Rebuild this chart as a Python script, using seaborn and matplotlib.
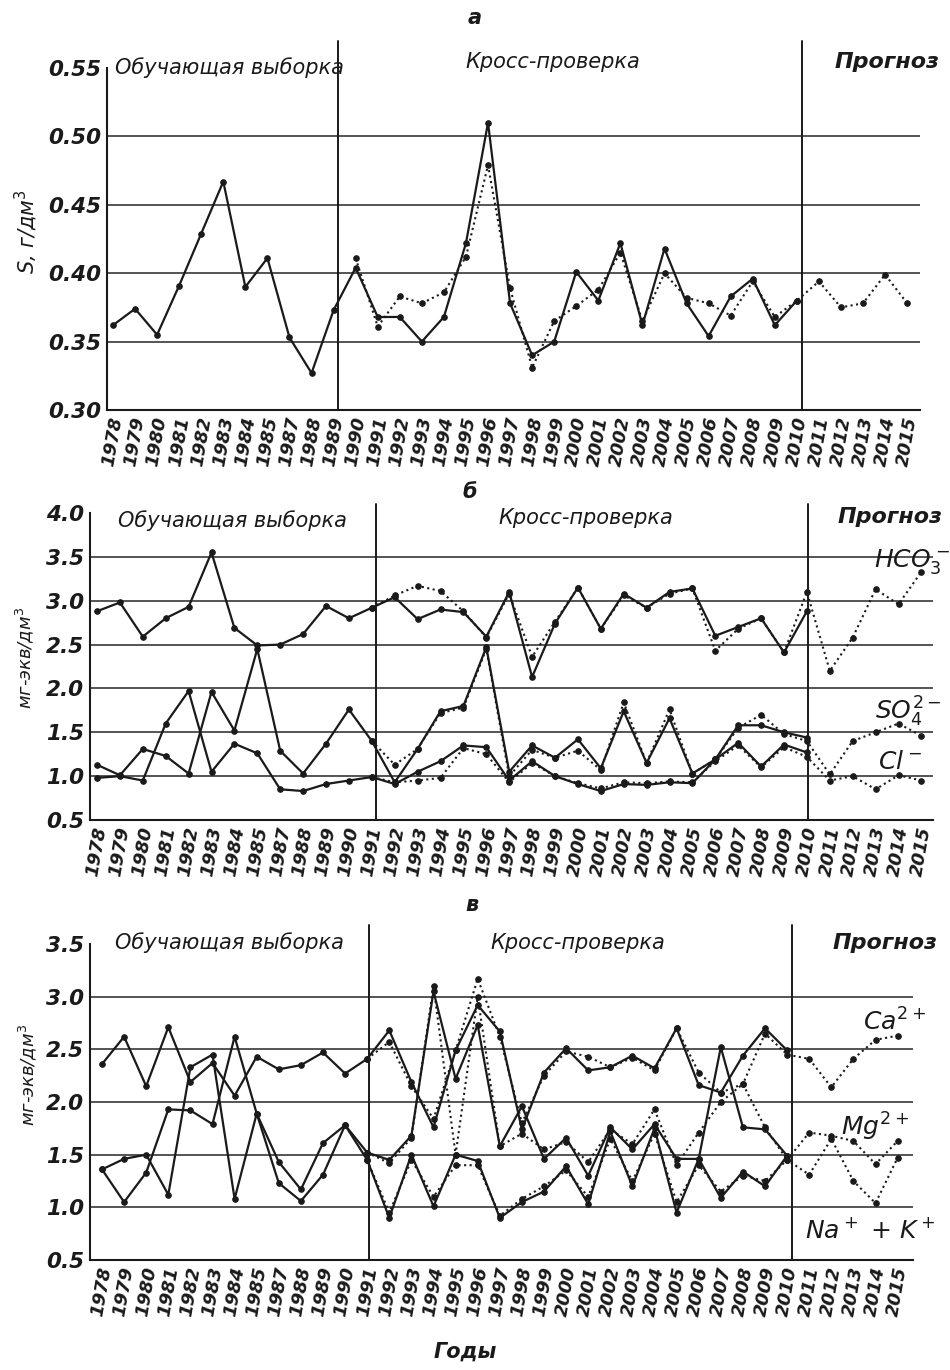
import pandas as pd
import numpy as np
import matplotlib
matplotlib.use('Agg')
import matplotlib.pyplot as plt
import seaborn as sns

# year labels (1986 is missing in the source figure)
years = [str(y) for y in list(range(1978, 1986)) + list(range(1987, 2016))]

# panel a: mineralization S, g/dm3
s_obs = [0.362, 0.374, 0.355, 0.391, 0.429, 0.467, 0.390, 0.411, 0.353, 0.327, 0.373,
         0.404, 0.368, 0.368, 0.350, 0.368, 0.422, 0.510, 0.378, 0.340, 0.350, 0.401,
         0.380, 0.422, 0.362, 0.418, 0.378, 0.354, 0.383, 0.396, 0.362, 0.380]
s_mod = [0.411, 0.361, 0.383, 0.378, 0.386, 0.412, 0.479, 0.389, 0.331, 0.365, 0.376,
         0.388, 0.415, 0.365, 0.400, 0.382, 0.378, 0.369, 0.394, 0.368, 0.380,
         0.394, 0.375, 0.378, 0.399, 0.378]

# panel b: anions, mg-eq/dm3
hco3_obs = [2.88, 2.98, 2.59, 2.80, 2.93, 3.55, 2.69, 2.49, 2.50, 2.62, 2.94, 2.80, 2.92,
            3.04, 2.79, 2.90, 2.87, 2.59, 3.10, 2.13, 2.74, 3.15, 2.68, 3.08, 2.92, 3.10,
            3.14, 2.60, 2.70, 2.80, 2.41, 2.88]
hco3_mod = [2.92, 3.06, 3.17, 3.11, 2.88, 2.58, 3.08, 2.36, 2.76, 3.15, 2.68, 3.06, 2.92,
            3.08, 3.14, 2.43, 2.68, 2.80, 2.41, 3.10, 2.20, 2.58, 3.13, 2.96, 3.33]
so4_obs = [1.13, 1.01, 1.31, 1.23, 1.03, 1.96, 1.52, 2.45, 1.29, 1.03, 1.37, 1.76, 1.40,
           0.93, 1.31, 1.74, 1.80, 2.47, 1.05, 1.35, 1.21, 1.42, 1.09, 1.74, 1.15, 1.66,
           1.03, 1.19, 1.58, 1.58, 1.50, 1.44]
so4_mod = [1.40, 1.13, 1.31, 1.72, 1.78, 2.45, 1.00, 1.30, 1.21, 1.29, 1.07, 1.84, 1.15,
           1.76, 1.03, 1.19, 1.55, 1.70, 1.48, 1.40, 1.02, 1.40, 1.50, 1.60, 1.46]
cl_obs = [0.98, 1.00, 0.95, 1.60, 1.97, 1.05, 1.37, 1.26, 0.85, 0.83, 0.91, 0.95, 0.99,
          0.91, 1.05, 1.17, 1.35, 1.33, 0.95, 1.17, 1.00, 0.91, 0.83, 0.91, 0.90, 0.93,
          0.92, 1.19, 1.38, 1.11, 1.36, 1.27]
cl_mod = [0.99, 0.93, 0.95, 0.98, 1.32, 1.25, 0.93, 1.15, 1.00, 0.92, 0.86, 0.93, 0.92,
          0.94, 0.93, 1.17, 1.35, 1.10, 1.33, 1.22, 0.95, 1.00, 0.85, 1.01, 0.95]

# panel c: cations, mg-eq/dm3
ca_obs = [2.36, 2.62, 2.15, 2.71, 2.19, 2.37, 2.06, 2.43, 2.31, 2.35, 2.47, 2.27, 2.41,
          2.68, 2.19, 1.76, 2.49, 2.92, 2.67, 1.74, 2.28, 2.51, 2.30, 2.33, 2.44, 2.32,
          2.70, 2.16, 2.09, 2.44, 2.70, 2.49]
ca_mod = [2.41, 2.57, 2.15, 1.84, 2.49, 3.17, 2.62, 1.80, 2.25, 2.48, 2.43, 2.33, 2.42,
          2.30, 2.70, 2.28, 2.09, 2.17, 2.65, 2.45, 2.41, 2.14, 2.41, 2.59, 2.63]
mg_obs = [1.36, 1.05, 1.33, 1.93, 1.92, 1.79, 2.62, 1.89, 1.43, 1.17, 1.61, 1.78, 1.52,
          1.45, 1.68, 3.05, 2.22, 2.73, 1.58, 1.96, 1.46, 1.66, 1.30, 1.76, 1.55, 1.79,
          1.46, 1.46, 2.52, 1.76, 1.74, 1.49]
mg_mod = [1.52, 1.42, 1.66, 3.10, 1.50, 3.00, 1.58, 1.70, 1.55, 1.62, 1.43, 1.74, 1.60,
          1.93, 1.40, 1.71, 2.00, 2.17, 1.76, 1.45, 1.71, 1.68, 1.63, 1.41, 1.63]
nak_obs = [1.36, 1.46, 1.50, 1.12, 2.33, 2.45, 1.08, 1.89, 1.23, 1.06, 1.31, 1.78, 1.45,
           0.90, 1.50, 1.01, 1.50, 1.44, 0.90, 1.05, 1.15, 1.39, 1.03, 1.72, 1.20, 1.75,
           0.95, 1.46, 1.09, 1.34, 1.20, 1.49]
nak_mod = [1.45, 0.95, 1.45, 1.10, 1.40, 1.40, 0.92, 1.08, 1.20, 1.35, 1.10, 1.65, 1.25,
           1.70, 1.05, 1.40, 1.15, 1.30, 1.25, 1.45, 1.31, 1.65, 1.25, 1.04, 1.47]

sns.set_theme(style='white')
plt.rcParams['font.family'] = ['DejaVu Sans']
plt.rcParams['mathtext.fontset'] = 'dejavusans'
plt.rcParams['text.color'] = 'k'
plt.rcParams['xtick.color'] = 'k'
plt.rcParams['ytick.color'] = 'k'

W, H = 950, 1370
fig = plt.figure(figsize=(W / 100, H / 100), dpi=100)


def px(x, y):
    return x / W, 1 - y / H


def make_ax(left, right, top, bottom, x0, step):
    ax = fig.add_axes([left / W, 1 - bottom / H, (right - left) / W, (bottom - top) / H])
    ax.set_xlim((left - x0) / step, (right - x0) / step)
    return ax


def draw(ax, obs, mod, start):
    d1 = pd.DataFrame({'x': np.arange(len(obs)), 'y': obs})
    sns.lineplot(data=d1, x='x', y='y', ax=ax, color='k', lw=1.6, marker='o',
                 markersize=4, markeredgecolor='k')
    d2 = pd.DataFrame({'x': np.arange(start, start + len(mod)), 'y': mod})
    sns.lineplot(data=d2, x='x', y='y', ax=ax, color='k', lw=1.5, linestyle=':',
                 marker='o', markersize=4, markeredgecolor='k')


def style(ax, yticks, fmt, grid, divs, ytop):
    for s in ['top', 'right']:
        ax.spines[s].set_visible(False)
    for s in ['left', 'bottom']:
        ax.spines[s].set_color('k')
        ax.spines[s].set_linewidth(1.5)
    ax.set_ylim(yticks[0], yticks[-1])
    ax.set_yticks(yticks)
    ax.set_yticklabels([fmt % v for v in yticks], fontsize=15.5, fontweight='bold',
                       fontstyle='italic')
    ax.set_xticks(range(len(years)))
    ax.set_xticklabels(years, rotation=80, fontsize=13, fontweight='bold',
                       fontstyle='italic', ha='center', va='top')
    ax.tick_params(axis='both', length=4, width=1, color='k', pad=2, direction='inout')
    for g in grid:
        ax.axhline(g, color='0.15', lw=1.1, zorder=0)
    for d in divs:
        ax.axvline(d, ymin=0, ymax=ytop, clip_on=False, color='k', lw=1.4)
    ax.set_xlabel('')
    ax.set_ylabel('')


sec_kw = dict(fontsize=15, fontstyle='italic', ha='left', va='center')
prog_kw = dict(fontsize=16, fontstyle='italic', fontweight='bold', ha='left', va='center')
let_kw = dict(fontsize=15, fontstyle='italic', fontweight='bold', ha='center', va='center')

# ---- panel a ----
ax1 = make_ax(107, 920, 68, 410, 113, 22.06)
draw(ax1, s_obs, s_mod, 11)
style(ax1, [0.30, 0.35, 0.40, 0.45, 0.50, 0.55], '%.2f', [0.35, 0.40, 0.45, 0.50],
      [10.2, 31.23], 1.08)
fig.text(*px(475, 18), 'а', **let_kw)
fig.text(*px(115, 68), 'Обучающая выборка', **sec_kw)
fig.text(*px(465, 62), 'Кросс-проверка', **sec_kw)
fig.text(*px(835, 62), 'Прогноз', **prog_kw)
fig.text(*px(26, 232), r'S, г/дм$^3$', fontsize=15, fontstyle='italic', rotation=90,
         ha='center', va='center')

# ---- panel b ----
ax2 = make_ax(90, 933, 513, 820, 97, 22.9)
draw(ax2, hco3_obs, hco3_mod, 12)
draw(ax2, so4_obs, so4_mod, 12)
draw(ax2, cl_obs, cl_mod, 12)
style(ax2, [0.5, 1.0, 1.5, 2.0, 2.5, 3.0, 3.5, 4.0], '%.1f',
      [1.0, 1.5, 2.0, 2.5, 3.0, 3.5], [12.18, 31.05], 1.03)
fig.text(*px(470, 492), 'б', **let_kw)
fig.text(*px(118, 521), 'Обучающая выборка', **sec_kw)
fig.text(*px(498, 518), 'Кросс-проверка', **sec_kw)
fig.text(*px(838, 517), 'Прогноз', **prog_kw)
fig.text(*px(25, 658), r'мг-экв/дм$^3$', fontsize=13, fontstyle='italic', rotation=90,
         ha='center', va='center')
fig.text(*px(912, 562), r'$HCO_3^-$', fontsize=18, ha='center', va='center')
fig.text(*px(908, 712), r'$SO_4^{2-}$', fontsize=18, ha='center', va='center')
fig.text(*px(900, 762), r'$Cl^-$', fontsize=18, ha='center', va='center')

# ---- panel c ----
ax3 = make_ax(90, 913, 944, 1260, 102, 22.1)
draw(ax3, ca_obs, ca_mod, 12)
draw(ax3, mg_obs, mg_mod, 12)
draw(ax3, nak_obs, nak_mod, 12)
style(ax3, [0.5, 1.0, 1.5, 2.0, 2.5, 3.0, 3.5], '%.1f',
      [1.0, 1.5, 2.0, 2.5, 3.0], [12.08, 31.2], 1.06)
fig.text(*px(472, 905), 'в', **let_kw)
fig.text(*px(115, 943), 'Обучающая выборка', **sec_kw)
fig.text(*px(490, 943), 'Кросс-проверка', **sec_kw)
fig.text(*px(833, 943), 'Прогноз', **prog_kw)
fig.text(*px(28, 1075), r'мг-экв/дм$^3$', fontsize=13, fontstyle='italic', rotation=90,
         ha='center', va='center')
fig.text(*px(895, 1022), r'$Ca^{2+}$', fontsize=18, ha='center', va='center')
fig.text(*px(875, 1127), r'$Mg^{2+}$', fontsize=18, ha='center', va='center')
fig.text(*px(870, 1230), r'$Na^+$ + $K^+$', fontsize=18, fontstyle='italic', ha='center', va='center')
fig.text(*px(465, 1352), 'Годы', fontsize=15, fontstyle='italic', fontweight='bold',
         ha='center', va='center')

fig.savefig('out.png', dpi=100)
